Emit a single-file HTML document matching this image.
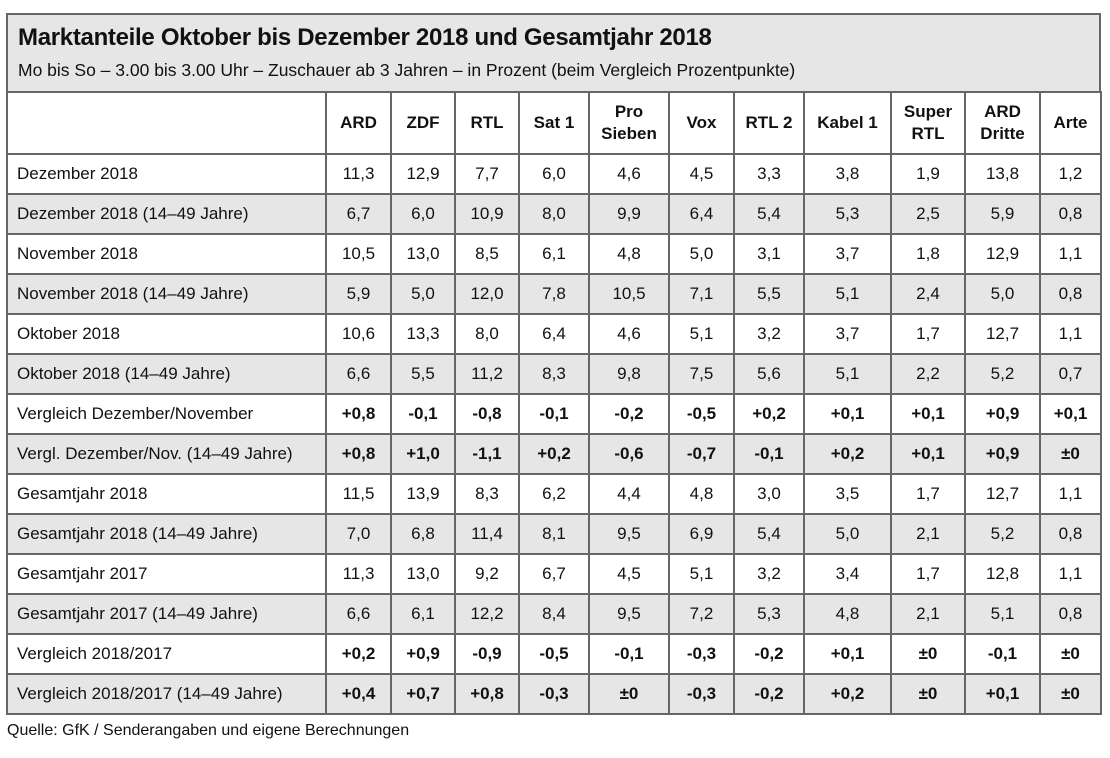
<!DOCTYPE html>
<html><head><meta charset="utf-8"><style>
body{margin:0;width:1110px;height:758px;background:#fff;font-family:"Liberation Sans",sans-serif;color:#111;position:relative;overflow:hidden}
#box{position:absolute;left:6px;top:13px;width:1095px;border:2px solid #666;box-sizing:border-box;border-bottom:none}
#head{background:#e6e6e6;height:78px;box-sizing:border-box;padding:9px 0 0 10px;border-bottom:2px solid #666}
#title{font-size:24px;font-weight:bold;letter-spacing:-0.3px}
#sub{font-size:17.5px;margin-top:8px}
table{border-collapse:collapse;table-layout:fixed;width:1094px;position:absolute;left:6px;top:91px}
td,th{border:2px solid #666;font-size:17px;text-align:center;padding:0;height:38px}
th{height:60px;line-height:22px;font-weight:bold}
td:first-child{text-align:left;padding-left:9px}
tr.g td{background:#e6e6e6}
tr.b td:not(:first-child){font-weight:bold}
#src{position:absolute;left:7px;top:722px;font-size:16px}
</style></head><body>
<div id="box"><div id="head">
<div id="title">Marktanteile Oktober bis Dezember 2018 und Gesamtjahr 2018</div>
<div id="sub">Mo bis So – 3.00 bis 3.00 Uhr – Zuschauer ab 3 Jahren – in Prozent (beim Vergleich Prozentpunkte)</div>
</div></div>
<table id="t">
<colgroup><col style="width:319px"><col style="width:65px"><col style="width:64px"><col style="width:64px"><col style="width:70px"><col style="width:80px"><col style="width:65px"><col style="width:70px"><col style="width:87px"><col style="width:74px"><col style="width:75px"><col style="width:61px"></colgroup>
<tbody id="tb"></tbody></table>
<div id="src">Quelle: GfK / Senderangaben und eigene Berechnungen</div>
<script>
const channels=["ARD","ZDF","RTL","Sat 1","Pro<br>Sieben","Vox","RTL 2","Kabel 1","Super<br>RTL","ARD<br>Dritte","Arte"];
const rowLabels=["Dezember 2018","Dezember 2018 (14–49 Jahre)","November 2018","November 2018 (14–49 Jahre)","Oktober 2018","Oktober 2018 (14–49 Jahre)","Vergleich Dezember/November","Vergl. Dezember/Nov. (14–49 Jahre)","Gesamtjahr 2018","Gesamtjahr 2018 (14–49 Jahre)","Gesamtjahr 2017","Gesamtjahr 2017 (14–49 Jahre)","Vergleich 2018/2017","Vergleich 2018/2017 (14–49 Jahre)"];
const boldRows=[6,7,12,13];
const values=[
["11,3","12,9","7,7","6,0","4,6","4,5","3,3","3,8","1,9","13,8","1,2"],
["6,7","6,0","10,9","8,0","9,9","6,4","5,4","5,3","2,5","5,9","0,8"],
["10,5","13,0","8,5","6,1","4,8","5,0","3,1","3,7","1,8","12,9","1,1"],
["5,9","5,0","12,0","7,8","10,5","7,1","5,5","5,1","2,4","5,0","0,8"],
["10,6","13,3","8,0","6,4","4,6","5,1","3,2","3,7","1,7","12,7","1,1"],
["6,6","5,5","11,2","8,3","9,8","7,5","5,6","5,1","2,2","5,2","0,7"],
["+0,8","-0,1","-0,8","-0,1","-0,2","-0,5","+0,2","+0,1","+0,1","+0,9","+0,1"],
["+0,8","+1,0","-1,1","+0,2","-0,6","-0,7","-0,1","+0,2","+0,1","+0,9","±0"],
["11,5","13,9","8,3","6,2","4,4","4,8","3,0","3,5","1,7","12,7","1,1"],
["7,0","6,8","11,4","8,1","9,5","6,9","5,4","5,0","2,1","5,2","0,8"],
["11,3","13,0","9,2","6,7","4,5","5,1","3,2","3,4","1,7","12,8","1,1"],
["6,6","6,1","12,2","8,4","9,5","7,2","5,3","4,8","2,1","5,1","0,8"],
["+0,2","+0,9","-0,9","-0,5","-0,1","-0,3","-0,2","+0,1","±0","-0,1","±0"],
["+0,4","+0,7","+0,8","-0,3","±0","-0,3","-0,2","+0,2","±0","+0,1","±0"]];
const tb=document.getElementById('tb');
let hr=document.createElement('tr');


let e=document.createElement('th');hr.appendChild(e);
channels.forEach(c=>{const th=document.createElement('th');th.innerHTML=c;


hr.appendChild(th);});
tb.appendChild(hr);
rowLabels.forEach((l,i)=>{const tr=document.createElement('tr');


if(i%2)tr.className='g';if(boldRows.includes(i))tr.className+=' b';
const td=document.createElement('td');td.textContent=l;


tr.appendChild(td);
values[i].forEach(v=>{const c=document.createElement('td');c.textContent=v;


tr.appendChild(c);});
tb.appendChild(tr);});
</script>
</body></html>
